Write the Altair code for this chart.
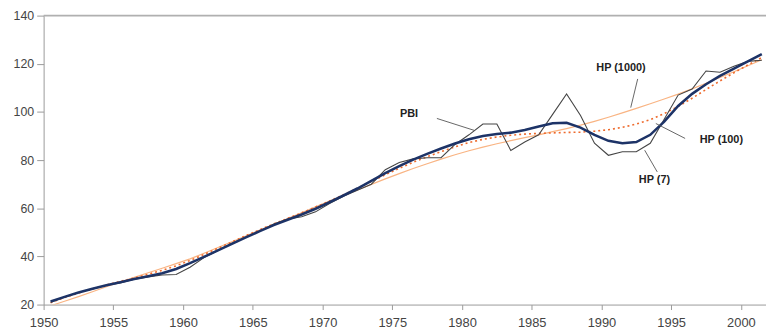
import altair as alt
import pandas as pd

years = list(range(1950, 2002))

pbi = [21, 23, 25, 26.5, 28, 29, 30.5, 31.5, 32.3, 32.5,
       35.5, 39.5, 42.5, 45.5, 48, 50.5, 53.5, 55.5, 56.5, 58.5,
       62, 65, 67.5, 70, 76, 79, 80.5, 81, 81, 86.5,
       90.5, 95, 95, 84, 87.5, 90.5, 99, 107.5, 98.5, 87,
       82, 83.5, 83.5, 87, 97, 107, 109.5, 117, 116.5, 119,
       121, 121.5]

hp7 = [21.3, 23.2, 25, 26.6, 28, 29.3, 30.6, 31.8, 33, 34.8,
       37.2, 39.8, 42.5, 45.2, 47.9, 50.5, 53, 55.2, 57.4, 59.8,
       62.5, 65.3, 68.2, 71.4, 74.6, 77.5, 80.2, 82.6, 84.8, 86.9,
       88.7, 90, 90.8, 91.4, 92.5, 94, 95.3, 95.5, 93.5, 90.5,
       88, 87, 87.5, 90.5, 96, 102.5, 107.5, 111.5, 115, 118,
       121, 124]

hp100 = [20.8, 22.9, 24.8, 26.5, 28.1, 29.6, 31.1, 32.6, 34.2, 36.1,
         38.3, 40.8, 43.4, 46, 48.6, 51.1, 53.5, 55.8, 58.1, 60.5,
         63, 65.6, 68.3, 71.1, 73.9, 76.6, 79.1, 81.4, 83.5, 85.5,
         87.3, 88.6, 89.6, 90.3, 90.8, 91.1, 91.3, 91.5, 91.6, 92,
         92.6, 93.6, 95, 96.8, 99.3, 102.3, 105.7, 109.3, 112.9, 116.3,
         119.5, 122.6]

hp1000 = [19.5, 21.4, 23.3, 25.3, 27.4, 29.4, 31.3, 33.2, 35.1, 37.0,
          39.0, 41.3, 43.7, 46.1, 48.5, 50.9, 53.3, 55.7, 58.1, 60.6,
          63.0, 65.3, 67.6, 69.9, 72.2, 74.4, 76.5, 78.5, 80.4, 82.2,
          83.9, 85.4, 86.8, 88.1, 89.3, 90.5, 91.8, 93.1, 94.5, 96.1,
          97.8, 99.6, 101.5, 103.4, 105.4, 107.4, 109.6, 111.9, 114.3, 116.7,
          119.2, 121.7]

x_ticks = [1950, 1955, 1960, 1965, 1970, 1975, 1980, 1985, 1990, 1995, 2000]
y_ticks = [20, 40, 60, 80, 100, 120, 140]

labels = ["PBI", "HP (1000)", "HP (100)", "HP (7)"]
label_t = [1976.2, 1991.4, 1998.6, 1993.8]
label_v = [99.3, 118.2, 88.2, 71.8]
lead_t1 = [1978.2, 1992.6, 1996.0, 1994.0]
lead_v1 = [97.3, 113.7, 89.0, 75.1]
lead_t2 = [1980.9, 1992.1, 1993.9, 1993.1]
lead_v2 = [92.3, 101.8, 95.2, 84.1]

df = pd.DataFrame({"year": years, "PBI": pbi, "HP7": hp7,
                   "HP100": hp100, "HP1000": hp1000})
df["t"] = df["year"] + 0.5

ann = pd.DataFrame({"label": labels, "t": label_t, "v": label_v,
                    "t1": lead_t1, "v1": lead_v1, "t2": lead_t2, "v2": lead_v2})

xscale = alt.Scale(domain=[1950, 2001.8], nice=False, zero=False)
yscale = alt.Scale(domain=[20, 140], nice=False, zero=False)

xaxis = alt.Axis(values=x_ticks, format="d", title=None, grid=False,
                 tickSize=5, labelFontSize=13, labelPadding=7,
                 domainColor="#9a9a9a", tickColor="#9a9a9a", labelColor="#444",
                 labelFont="Liberation Sans", labelFlush=False)
yaxis = alt.Axis(values=y_ticks, title=None, grid=False,
                 tickSize=7, labelFontSize=12.5, labelPadding=3,
                 domainColor="#9a9a9a", tickColor="#9a9a9a", labelColor="#444",
                 labelFont="Liberation Sans")

base = alt.Chart(df)


def series(field, color, width, dash=None):
    kw = dict(color=color, strokeWidth=width, clip=True, interpolate="linear")
    if dash:
        kw["strokeDash"] = dash
    return base.mark_line(**kw).encode(
        x=alt.X("t:Q", scale=xscale, axis=xaxis),
        y=alt.Y(f"{field}:Q", scale=yscale, axis=yaxis),
    )


top_rule = alt.Chart(pd.DataFrame({"v": [140]})).mark_rule(
    color="#b0b0b0", strokeWidth=2).encode(y=alt.Y("v:Q", scale=yscale, axis=yaxis))

l1000 = series("HP1000", "#f9b483", 1.2)
l100 = series("HP100", "#ee6a2c", 1.6, [2, 3])
lpbi = series("PBI", "#454545", 1.1)
l7 = series("HP7", "#1d3367", 2.6)

leaders = alt.Chart(ann).mark_rule(color="#555", strokeWidth=0.9).encode(
    x=alt.X("t1:Q", scale=xscale, axis=xaxis), y=alt.Y("v1:Q", scale=yscale, axis=yaxis),
    x2="t2:Q", y2="v2:Q")

texts = alt.Chart(ann).mark_text(font="Liberation Sans", fontSize=11, fontWeight="bold",
                                 color="#222", align="center", baseline="middle").encode(
    x=alt.X("t:Q", scale=xscale, axis=xaxis), y=alt.Y("v:Q", scale=yscale, axis=yaxis),
    text="label:N")

chart = alt.layer(top_rule, l1000, l100, lpbi, l7, leaders, texts).properties(
    width=730, height=292,
    autosize=alt.AutoSizeParams(type="none"),
    padding={"left": 36, "top": 6, "right": 0, "bottom": 25},
    background="white",
).configure_view(stroke=None)

chart.save("out.html", embed_options={"renderer": "svg", "actions": False})
